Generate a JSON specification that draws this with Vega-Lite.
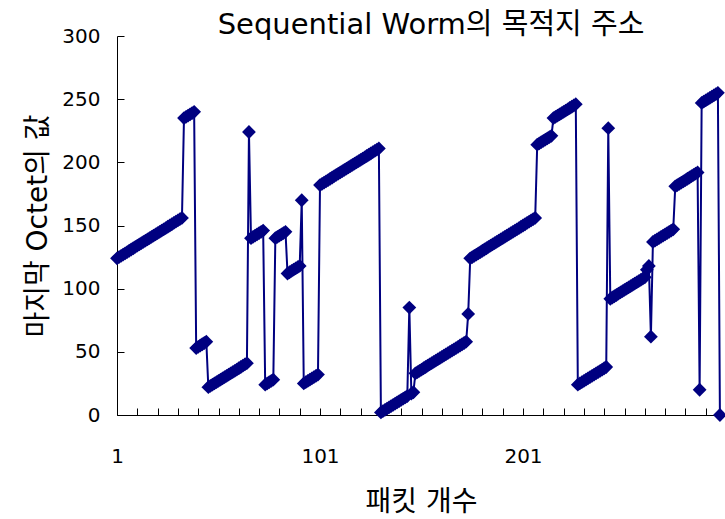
{
  "$schema": "https://vega.github.io/schema/vega-lite/v6.json",
  "autosize": "none",
  "width": 608,
  "height": 379,
  "padding": {"left": 117, "top": 36, "right": 0, "bottom": 104},
  "background": "white",
  "title": {"text": "Sequential Worm의 목적지 주소", "font": "DejaVu Sans, Noto Sans CJK KR", "fontSize": 29, "fontWeight": "normal", "color": "black", "anchor": "middle", "frame": "group", "baseline": "alphabetic", "offset": -37, "dx": 10},
  "data": {"values": [
    {"p":1,"v":124},{"p":2,"v":125},{"p":3,"v":126},{"p":4,"v":127},{"p":5,"v":128},{"p":6,"v":129},{"p":7,"v":130},{"p":8,"v":131},{"p":9,"v":132},{"p":10,"v":133},
    {"p":11,"v":134},{"p":12,"v":135},{"p":13,"v":136},{"p":14,"v":137},{"p":15,"v":138},{"p":16,"v":139},{"p":17,"v":140},{"p":18,"v":141},{"p":19,"v":142},{"p":20,"v":143},
    {"p":21,"v":144},{"p":22,"v":145},{"p":23,"v":146},{"p":24,"v":147},{"p":25,"v":148},{"p":26,"v":149},{"p":27,"v":150},{"p":28,"v":151},{"p":29,"v":152},{"p":30,"v":153},
    {"p":31,"v":154},{"p":32,"v":155},{"p":33,"v":156},
    {"p":34,"v":235},{"p":35,"v":236},{"p":36,"v":237},{"p":37,"v":238},{"p":38,"v":239},{"p":39,"v":240},
    {"p":40,"v":53},{"p":41,"v":54},{"p":42,"v":55},{"p":43,"v":56},{"p":44,"v":57},{"p":45,"v":58},
    {"p":46,"v":22},{"p":47,"v":23},{"p":48,"v":24},{"p":49,"v":25},{"p":50,"v":26},{"p":51,"v":27},{"p":52,"v":28},{"p":53,"v":29},{"p":54,"v":30},{"p":55,"v":31},
    {"p":56,"v":32},{"p":57,"v":33},{"p":58,"v":34},{"p":59,"v":35},{"p":60,"v":36},{"p":61,"v":37},{"p":62,"v":38},{"p":63,"v":39},{"p":64,"v":40},{"p":65,"v":41},
    {"p":66,"v":224},
    {"p":67,"v":140},{"p":68,"v":141},{"p":69,"v":142},{"p":70,"v":143},{"p":71,"v":144},{"p":72,"v":145},{"p":73,"v":146},
    {"p":74,"v":24},{"p":75,"v":25},{"p":76,"v":26},{"p":77,"v":27},{"p":78,"v":28},
    {"p":79,"v":140},{"p":80,"v":141},{"p":81,"v":142},{"p":82,"v":143},{"p":83,"v":144},{"p":84,"v":145},
    {"p":85,"v":112},{"p":86,"v":113},{"p":87,"v":114},{"p":88,"v":115},{"p":89,"v":116},{"p":90,"v":117},{"p":91,"v":118},
    {"p":92,"v":170},
    {"p":93,"v":25},{"p":94,"v":26},{"p":95,"v":27},{"p":96,"v":28},{"p":97,"v":29},{"p":98,"v":30},{"p":99,"v":31},{"p":100,"v":32},
    {"p":101,"v":182},{"p":102,"v":183},{"p":103,"v":184},{"p":104,"v":185},{"p":105,"v":186},{"p":106,"v":187},{"p":107,"v":188},{"p":108,"v":189},{"p":109,"v":190},{"p":110,"v":191},
    {"p":111,"v":192},{"p":112,"v":193},{"p":113,"v":194},{"p":114,"v":195},{"p":115,"v":196},{"p":116,"v":197},{"p":117,"v":198},{"p":118,"v":199},{"p":119,"v":200},{"p":120,"v":201},
    {"p":121,"v":202},{"p":122,"v":203},{"p":123,"v":204},{"p":124,"v":205},{"p":125,"v":206},{"p":126,"v":207},{"p":127,"v":208},{"p":128,"v":209},{"p":129,"v":210},{"p":130,"v":211},
    {"p":131,"v":2},{"p":132,"v":3},{"p":133,"v":4},{"p":134,"v":5},{"p":135,"v":6},{"p":136,"v":7},{"p":137,"v":8},{"p":138,"v":9},{"p":139,"v":10},{"p":140,"v":11},
    {"p":141,"v":12},{"p":142,"v":13},{"p":143,"v":14},{"p":144,"v":15},
    {"p":145,"v":85},{"p":146,"v":17},{"p":147,"v":18},
    {"p":148,"v":33},{"p":149,"v":34},{"p":150,"v":35},{"p":151,"v":36},{"p":152,"v":37},{"p":153,"v":38},{"p":154,"v":39},{"p":155,"v":40},{"p":156,"v":41},{"p":157,"v":42},
    {"p":158,"v":43},{"p":159,"v":44},{"p":160,"v":45},{"p":161,"v":46},{"p":162,"v":47},{"p":163,"v":48},{"p":164,"v":49},{"p":165,"v":50},{"p":166,"v":51},{"p":167,"v":52},
    {"p":168,"v":53},{"p":169,"v":54},{"p":170,"v":55},{"p":171,"v":56},{"p":172,"v":57},{"p":173,"v":58},
    {"p":174,"v":80},
    {"p":175,"v":124},{"p":176,"v":125},{"p":177,"v":126},{"p":178,"v":127},{"p":179,"v":128},{"p":180,"v":129},{"p":181,"v":130},{"p":182,"v":131},{"p":183,"v":132},{"p":184,"v":133},
    {"p":185,"v":134},{"p":186,"v":135},{"p":187,"v":136},{"p":188,"v":137},{"p":189,"v":138},{"p":190,"v":139},{"p":191,"v":140},{"p":192,"v":141},{"p":193,"v":142},{"p":194,"v":143},
    {"p":195,"v":144},{"p":196,"v":145},{"p":197,"v":146},{"p":198,"v":147},{"p":199,"v":148},{"p":200,"v":149},{"p":201,"v":150},{"p":202,"v":151},{"p":203,"v":152},{"p":204,"v":153},
    {"p":205,"v":154},{"p":206,"v":155},{"p":207,"v":156},
    {"p":208,"v":214},{"p":209,"v":215},{"p":210,"v":216},{"p":211,"v":217},{"p":212,"v":218},{"p":213,"v":219},{"p":214,"v":220},{"p":215,"v":221},
    {"p":216,"v":235},{"p":217,"v":236},{"p":218,"v":237},{"p":219,"v":238},{"p":220,"v":239},{"p":221,"v":240},{"p":222,"v":241},{"p":223,"v":242},{"p":224,"v":243},{"p":225,"v":244},
    {"p":226,"v":245},{"p":227,"v":246},
    {"p":228,"v":24},{"p":229,"v":25},{"p":230,"v":26},{"p":231,"v":27},{"p":232,"v":28},{"p":233,"v":29},{"p":234,"v":30},{"p":235,"v":31},{"p":236,"v":32},{"p":237,"v":33},
    {"p":238,"v":34},{"p":239,"v":35},{"p":240,"v":36},{"p":241,"v":37},{"p":242,"v":38},
    {"p":243,"v":227},
    {"p":244,"v":92},{"p":245,"v":93},{"p":246,"v":94},{"p":247,"v":95},{"p":248,"v":96},{"p":249,"v":97},{"p":250,"v":98},{"p":251,"v":99},{"p":252,"v":100},{"p":253,"v":101},
    {"p":254,"v":102},{"p":255,"v":103},{"p":256,"v":104},{"p":257,"v":105},{"p":258,"v":106},{"p":259,"v":107},{"p":260,"v":108},{"p":261,"v":109},
    {"p":262,"v":115},{"p":263,"v":118},{"p":264,"v":62},
    {"p":265,"v":137},{"p":266,"v":138},{"p":267,"v":139},{"p":268,"v":140},{"p":269,"v":141},{"p":270,"v":142},{"p":271,"v":143},{"p":272,"v":144},{"p":273,"v":145},{"p":274,"v":146},
    {"p":275,"v":147},
    {"p":276,"v":181},{"p":277,"v":182},{"p":278,"v":183},{"p":279,"v":184},{"p":280,"v":185},{"p":281,"v":186},{"p":282,"v":187},{"p":283,"v":188},{"p":284,"v":189},{"p":285,"v":190},
    {"p":286,"v":191},{"p":287,"v":192},
    {"p":288,"v":20},
    {"p":289,"v":247},{"p":290,"v":248},{"p":291,"v":249},{"p":292,"v":250},{"p":293,"v":251},{"p":294,"v":252},{"p":295,"v":253},{"p":296,"v":254},{"p":297,"v":255},
    {"p":298,"v":0}
  ]},
  "mark": {"type": "line", "color": "#000080", "strokeWidth": 2, "clip": false, "point": {"shape": "diamond", "size": 190, "filled": true, "color": "#000080", "opacity": 1}},
  "encoding": {
    "x": {"field": "p", "type": "quantitative", "scale": {"domain": [1, 300.5], "nice": false, "zero": false},
      "axis": {"values": [1,11,21,31,41,51,61,71,81,91,101,111,121,131,141,151,161,171,181,191,201,211,221,231,241,251,261,271,281,291],
        "labelExpr": "(datum.value - 1) % 100 === 0 ? datum.label : ''", "format": "d", "labelFlush": false, "labelOverlap": false,
        "tickSize": -7, "labelPadding": 38, "title": "패킷 개수", "titlePadding": 22}},
    "y": {"field": "v", "type": "quantitative", "scale": {"domain": [0, 300], "nice": false},
      "axis": {"values": [0,50,100,150,200,250,300], "tickSize": -7, "labelPadding": 24, "title": "마지막 Octet의 값", "titlePadding": 9}}
  },
  "config": {
    "view": {"stroke": null},
    "axis": {"grid": false, "domainColor": "black", "tickColor": "black", "domainWidth": 1, "tickWidth": 1,
      "labelFont": "DejaVu Sans, Noto Sans CJK KR", "labelFontSize": 20, "labelColor": "black",
      "titleFont": "DejaVu Sans, Noto Sans CJK KR", "titleFontSize": 28, "titleFontWeight": "normal", "titleColor": "black"}
  }
}
